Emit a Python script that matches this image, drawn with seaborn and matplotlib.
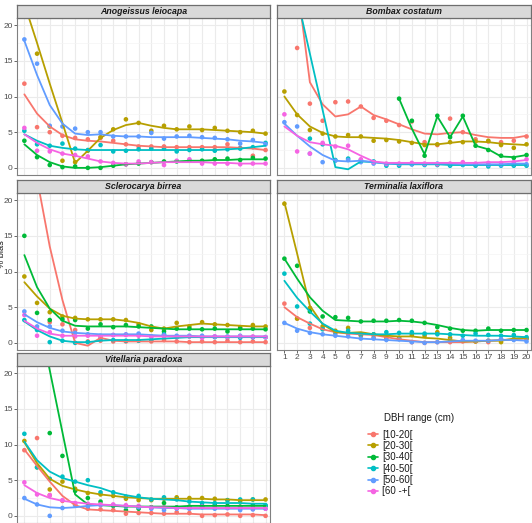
import numpy as np
import pandas as pd
import matplotlib
matplotlib.use("Agg")
import matplotlib.pyplot as plt
from matplotlib.lines import Line2D
import seaborn as sns

# -------- datos --------
x_vals = list(range(1, 21))
dbh_clases = ["[10-20[", "[20-30[", "[30-40[", "[40-50[", "[50-60[", "[60 -+["]
colores = ["#F8766D", "#B79F00", "#00BA38", "#00BFC4", "#619CFF", "#F564E3"]
especies = ["Anogeissus leiocapa", "Bombax costatum", "Sclerocarya birrea",
            "Terminalia laxiflora", "Vitellaria paradoxa"]
N = None

# Anogeissus leiocapa
ano_obs = {
    "[10-20[": [11.8, 5.7, 5.0, 4.5, 4.2, 4.0, 4.2, 3.8, 3.3, 3.0, 3.0, 3.0, 2.9, 2.9, 2.9, 2.9, 3.3, 2.8, 1.7, 2.5],
    "[20-30[": [26.0, 16.0, 5.8, 1.0, 0.8, 2.4, 4.3, 5.4, 6.8, 6.3, 5.2, 5.9, 5.4, 5.8, 5.3, 5.6, 5.2, 5.0, 5.2, 4.8],
    "[30-40[": [3.8, 1.5, 0.4, 0.1, 0.2, 0.0, 0.0, 0.3, 0.5, 0.6, 0.8, 0.9, 0.9, 1.0, 1.0, 1.2, 1.3, 1.1, 1.4, 1.3],
    "[40-50[": [5.2, 3.3, 3.1, 3.4, 2.7, 2.5, 3.2, 2.3, 2.4, 2.6, 2.7, 2.7, 2.3, 2.5, 2.6, 2.4, 2.6, 2.7, 2.9, 3.5],
    "[50-60[": [18.0, 14.6, 5.9, 5.8, 5.5, 5.0, 5.0, 4.4, 4.4, 4.4, 4.9, 4.1, 4.4, 4.5, 4.3, 4.2, 4.0, 3.4, 3.9, 3.3],
    "[60 -+[": [5.6, 2.4, 2.3, 2.0, 1.8, 1.6, 0.9, 0.7, 0.5, 0.9, 0.8, 0.4, 1.0, 1.2, 0.6, 0.6, 0.6, 0.5, 0.6, 0.6],
}
ano_fit = {
    "[10-20[": [10.3, 7.6, 5.8, 4.6, 4.0, 3.8, 3.7, 3.5, 3.3, 3.1, 3.0, 2.9, 2.9, 2.9, 2.9, 2.9, 2.9, 2.8, 2.7, 2.5],
    "[20-30[": [23.0, 17.5, 11.8, 6.3, 0.7, 2.4, 4.2, 5.3, 6.0, 6.3, 5.9, 5.6, 5.4, 5.4, 5.4, 5.3, 5.2, 5.1, 5.0, 4.8],
    "[30-40[": [3.3, 1.8, 0.8, 0.2, 0.0, 0.0, 0.1, 0.3, 0.5, 0.6, 0.7, 0.8, 0.9, 1.0, 1.0, 1.1, 1.1, 1.2, 1.2, 1.2],
    "[40-50[": [4.7, 3.8, 3.1, 2.8, 2.6, 2.5, 2.5, 2.5, 2.5, 2.5, 2.5, 2.5, 2.5, 2.5, 2.5, 2.5, 2.6, 2.7, 2.9, 3.1],
    "[50-60[": [17.8, 13.0, 8.8, 6.2, 4.8, 4.6, 4.7, 4.5, 4.4, 4.4, 4.3, 4.3, 4.3, 4.3, 4.2, 4.1, 4.0, 3.8, 3.7, 3.5],
    "[60 -+[": [4.7, 3.5, 2.6, 2.0, 1.7, 1.3, 0.9, 0.7, 0.6, 0.6, 0.7, 0.8, 0.8, 0.8, 0.8, 0.7, 0.7, 0.6, 0.6, 0.6],
}

# Bombax costatum
bom_obs = {
    "[10-20[": [33.0, 16.8, 9.0, 6.6, 9.2, 9.3, 8.6, 7.0, 6.6, 6.0, 6.5, 3.6, 3.2, 6.9, 5.0, 4.0, 3.7, 3.6, 3.8, 4.4],
    "[20-30[": [10.7, 7.4, 5.3, 4.8, 4.4, 4.6, 4.4, 3.8, 3.9, 3.7, 3.5, 3.2, 3.3, 3.6, 3.6, 3.7, 3.8, 3.2, 2.8, 3.3],
    "[30-40[": [N, N, N, N, N, N, N, N, N, 9.7, 6.6, 1.7, 7.3, 4.3, 7.3, 3.1, 2.5, 1.7, 1.4, 1.8],
    "[40-50[": [32.0, 24.0, 4.1, 3.3, 1.1, 1.3, 1.1, 0.9, 0.3, 0.3, 0.5, 0.4, 0.4, 0.3, 0.4, 0.3, 0.2, 0.3, 0.3, 0.3],
    "[50-60[": [6.4, 5.8, 2.0, 0.8, 1.0, 1.1, 0.8, 0.6, 0.5, 0.5, 0.5, 0.5, 0.6, 0.5, 0.5, 0.5, 0.4, 0.4, 0.5, 0.5],
    "[60 -+[": [7.5, 2.3, 2.0, 3.5, 3.0, 3.1, 1.2, 0.8, 0.6, 0.6, 0.7, 0.6, 0.5, 0.6, 0.8, 0.6, 0.7, 0.7, 0.8, 1.2],
}
bom_fit = {
    "[10-20[": [35.0, 26.0, 12.0, 8.9, 7.2, 7.5, 8.6, 7.4, 6.8, 6.1, 5.4, 4.8, 4.7, 4.9, 5.0, 4.6, 4.3, 4.2, 4.2, 4.5],
    "[20-30[": [10.0, 7.5, 5.8, 4.9, 4.4, 4.3, 4.3, 4.2, 4.1, 3.9, 3.6, 3.3, 3.3, 3.5, 3.7, 3.7, 3.6, 3.4, 3.3, 3.2],
    "[30-40[": [N, N, N, N, N, N, N, N, N, 9.7, 5.5, 1.9, 7.2, 4.3, 7.2, 3.1, 2.6, 1.6, 1.5, 1.8],
    "[40-50[": [31.8, 23.9, 16.0, 8.1, 0.1, -0.2, 0.9, 0.8, 0.6, 0.5, 0.5, 0.5, 0.5, 0.4, 0.4, 0.4, 0.4, 0.4, 0.4, 0.4],
    "[50-60[": [6.2, 4.5, 3.0, 1.8, 1.0, 0.9, 1.0, 0.8, 0.6, 0.6, 0.6, 0.6, 0.6, 0.6, 0.5, 0.5, 0.5, 0.5, 0.6, 0.6],
    "[60 -+[": [5.8, 4.5, 3.6, 3.3, 3.1, 2.6, 1.7, 0.9, 0.7, 0.7, 0.7, 0.7, 0.7, 0.7, 0.7, 0.7, 0.8, 0.8, 0.9, 1.1],
}

# Sclerocarya birrea
scl_obs = {
    "[10-20[": [35.0, 24.0, 2.9, 2.6, 1.8, 0.2, 0.3, 0.2, 0.2, 0.3, 0.2, 0.4, 0.2, 0.1, 0.2, 0.1, 0.3, 0.1, 0.2, 0.1],
    "[20-30[": [9.3, 5.6, 4.3, 3.7, 3.5, 3.3, 3.3, 3.3, 3.2, 2.6, 1.8, 2.0, 2.8, 2.3, 2.9, 2.6, 2.5, 2.2, 2.5, 2.3],
    "[30-40[": [15.0, 4.2, 3.2, 3.3, 3.2, 2.0, 2.6, 2.2, 2.5, 2.3, 2.3, 1.6, 2.0, 2.0, 1.9, 2.0, 1.6, 2.0, 2.0, 1.9],
    "[40-50[": [3.2, 1.8, 0.1, 0.3, 0.0, 0.1, 0.6, 0.4, 0.3, 0.3, 0.4, 1.2, 0.8, 0.9, 0.8, 0.8, 0.8, 0.7, 0.8, 0.8],
    "[50-60[": [4.4, 2.3, 2.3, 1.7, 1.4, 1.2, 1.0, 1.1, 1.2, 1.3, 0.9, 1.1, 1.0, 1.0, 1.0, 0.9, 0.9, 1.0, 0.8, 0.8],
    "[60 -+[": [3.9, 1.0, 1.5, 1.0, 0.9, 1.0, 0.8, 1.1, 1.1, 1.0, 0.9, 0.9, 0.8, 0.9, 0.7, 0.9, 0.8, 0.9, 0.9, 0.8],
}
scl_fit = {
    "[10-20[": [30.6, 23.0, 13.5, 6.0, 0.0, -0.4, 0.7, 0.3, 0.2, 0.2, 0.2, 0.2, 0.2, 0.1, 0.1, 0.1, 0.1, 0.1, 0.1, 0.1],
    "[20-30[": [8.5, 6.5, 4.8, 3.8, 3.4, 3.3, 3.3, 3.3, 3.1, 2.8, 2.3, 2.0, 2.3, 2.5, 2.7, 2.6, 2.5, 2.4, 2.3, 2.3],
    "[30-40[": [12.3, 7.8, 4.8, 3.1, 2.4, 2.3, 2.3, 2.3, 2.3, 2.2, 2.1, 2.0, 1.9, 1.9, 1.9, 1.9, 1.9, 1.9, 1.9, 1.9],
    "[40-50[": [3.0, 1.8, 0.9, 0.3, 0.1, 0.1, 0.3, 0.4, 0.4, 0.4, 0.5, 0.6, 0.7, 0.8, 0.8, 0.8, 0.8, 0.8, 0.8, 0.8],
    "[50-60[": [4.0, 2.9, 2.1, 1.6, 1.4, 1.3, 1.2, 1.2, 1.2, 1.2, 1.1, 1.0, 1.0, 1.0, 0.9, 0.9, 0.9, 0.9, 0.9, 0.9],
    "[60 -+[": [3.1, 2.0, 1.3, 1.0, 1.0, 1.0, 1.0, 1.0, 1.0, 1.0, 0.9, 0.9, 0.9, 0.9, 0.9, 0.9, 0.9, 0.9, 0.9, 0.9],
}

# Terminalia laxiflora (sin clase [60 -+[)
ter_obs = {
    "[10-20[": [5.5, 3.4, 2.1, 2.0, 1.3, 1.3, 1.0, 0.8, 0.7, 0.6, 0.1, 0.0, 0.1, 0.1, 0.2, 0.2, 0.1, 0.5, 0.5, 0.6],
    "[20-30[": [19.5, 3.4, 4.9, 2.3, 1.7, 2.1, 1.1, 1.2, 0.8, 0.7, 1.1, 1.0, 1.5, 0.7, 0.3, 0.2, 0.3, 0.1, 0.5, 0.6],
    "[30-40[": [11.8, 10.8, 4.4, 3.7, 3.6, 3.5, 3.0, 3.1, 3.1, 3.2, 3.1, 2.8, 2.2, 2.0, 1.7, 1.7, 2.0, 1.7, 1.8, 1.8],
    "[40-50[": [9.7, 5.1, 2.7, 1.9, 1.5, 1.7, 1.2, 1.2, 1.5, 1.4, 1.5, 1.3, 1.2, 1.2, 1.0, 1.3, 1.1, 1.0, 1.1, 0.8],
    "[50-60[": [2.8, 1.7, 1.4, 1.2, 1.0, 0.9, 0.6, 0.6, 0.4, 0.5, 0.1, 0.0, 0.1, 0.3, 0.4, 0.3, 0.3, 0.5, 0.4, 0.2],
}
ter_fit = {
    "[10-20[": [5.0, 3.6, 2.7, 1.9, 1.5, 1.3, 1.2, 1.1, 0.8, 0.5, 0.3, 0.1, 0.1, 0.1, 0.1, 0.2, 0.3, 0.4, 0.5, 0.6],
    "[20-30[": [19.7, 12.5, 5.2, 2.6, 1.5, 1.4, 1.5, 1.2, 1.0, 0.9, 0.9, 0.7, 0.6, 0.4, 0.2, 0.2, 0.3, 0.3, 0.6, 0.7],
    "[30-40[": [11.8, 9.0, 6.4, 4.5, 3.2, 3.1, 3.0, 3.0, 3.0, 3.1, 3.0, 2.8, 2.5, 2.1, 1.8, 1.7, 1.8, 1.8, 1.8, 1.8],
    "[40-50[": [8.7, 6.3, 4.4, 2.7, 1.7, 1.4, 1.3, 1.2, 1.2, 1.3, 1.3, 1.3, 1.3, 1.2, 1.1, 1.0, 1.0, 1.0, 0.9, 0.8],
    "[50-60[": [2.8, 2.0, 1.5, 1.2, 1.0, 0.8, 0.6, 0.5, 0.4, 0.3, 0.2, 0.1, 0.1, 0.2, 0.3, 0.3, 0.3, 0.4, 0.4, 0.3],
}

# Vitellaria paradoxa
vit_obs = {
    "[10-20[": [9.2, 10.9, 2.9, 2.1, 1.6, 1.0, 0.9, 0.8, 0.3, 0.4, 0.4, 0.3, 0.5, 0.4, 0.0, 0.1, 0.2, 0.0, 0.1, 0.0],
    "[20-30[": [10.5, 6.8, 3.7, 4.8, 3.8, 3.2, 3.0, 2.8, 2.4, 2.2, 2.2, 2.4, 2.6, 2.5, 2.5, 2.4, 2.2, 2.1, 2.3, 2.3],
    "[30-40[": [40.0, 28.0, 11.6, 8.4, 3.5, 2.5, 2.0, 1.4, 0.8, 1.0, 1.2, 1.8, 1.2, 1.3, 1.4, 1.5, 1.4, 1.3, 1.5, 1.4],
    "[40-50[": [11.5, 6.8, 5.2, 5.5, 4.8, 5.0, 3.3, 3.3, 2.7, 2.8, 2.3, 2.6, 2.3, 2.0, 1.8, 1.8, 2.2, 2.3, 2.3, 1.5],
    "[50-60[": [2.5, 1.6, 0.0, 1.1, 1.5, 1.3, 1.5, 1.5, 1.3, 1.2, 1.0, 0.8, 1.0, 1.0, 1.2, 1.0, 1.1, 0.8, 0.9, 1.0],
    "[60 -+[": [4.7, 3.0, 2.9, 2.2, 1.8, 1.7, 1.6, 1.6, 1.5, 1.4, 1.2, 1.2, 1.1, 1.1, 1.3, 1.2, 1.1, 1.2, 1.1, 1.0],
}
vit_fit = {
    "[10-20[": [9.3, 7.0, 4.8, 2.8, 1.5, 0.9, 0.8, 0.7, 0.6, 0.5, 0.4, 0.3, 0.3, 0.3, 0.2, 0.2, 0.2, 0.2, 0.2, 0.1],
    "[20-30[": [10.3, 7.4, 5.2, 4.2, 3.7, 3.3, 3.0, 2.8, 2.6, 2.5, 2.4, 2.4, 2.4, 2.4, 2.4, 2.3, 2.3, 2.2, 2.2, 2.2],
    "[30-40[": [38.0, 29.0, 20.4, 11.7, 3.0, 1.6, 1.5, 1.4, 1.3, 1.3, 1.3, 1.3, 1.3, 1.4, 1.4, 1.4, 1.4, 1.4, 1.4, 1.4],
    "[40-50[": [10.4, 7.8, 6.2, 5.3, 4.8, 4.3, 3.9, 3.3, 2.9, 2.6, 2.4, 2.3, 2.2, 2.0, 1.9, 1.8, 1.8, 1.8, 1.7, 1.7],
    "[50-60[": [2.4, 1.6, 1.2, 1.1, 1.2, 1.4, 1.5, 1.5, 1.4, 1.3, 1.2, 1.1, 1.1, 1.0, 1.0, 1.0, 1.0, 1.0, 1.0, 1.0],
    "[60 -+[": [4.3, 3.2, 2.5, 2.1, 1.9, 1.7, 1.6, 1.5, 1.4, 1.3, 1.2, 1.2, 1.1, 1.1, 1.1, 1.1, 1.1, 1.1, 1.1, 1.1],
}

datos = {
    "Anogeissus leiocapa": (ano_obs, ano_fit),
    "Bombax costatum": (bom_obs, bom_fit),
    "Sclerocarya birrea": (scl_obs, scl_fit),
    "Terminalia laxiflora": (ter_obs, ter_fit),
    "Vitellaria paradoxa": (vit_obs, vit_fit),
}

# tabla larga
filas = []
for sp, (obs, fit) in datos.items():
    for clase in obs:
        for xi, o, f in zip(x_vals, obs[clase], fit[clase]):
            filas.append({"especie": sp, "dbh": clase, "x": xi,
                          "obs": np.nan if o is None else o,
                          "fit": np.nan if f is None else f})
df = pd.DataFrame(filas)
paleta = dict(zip(dbh_clases, colores))

# -------- figura --------
sns.set_style("white")
plt.rcParams["font.family"] = ["Liberation Sans", "DejaVu Sans"]

W, H = 532, 523
fig = plt.figure(figsize=(W / 100, H / 100), dpi=100)

# posiciones de paneles en pixeles
col_x = [(17, 253), (277, 254)]
fila_top = [18, 193, 366]
alto = 157
strip_h = 13.5
borde = "#808080"


def px_rect(x0, top, w, h):
    return [x0 / W, 1 - (top + h) / H, w / W, h / H]


for i, sp in enumerate(especies):
    fila, col = divmod(i, 2)
    x0, w = col_x[col]
    top = fila_top[fila]
    ax = fig.add_axes(px_rect(x0, top, w, alto))
    sub = df[df["especie"] == sp]
    orden = [c for c in dbh_clases if c in sub["dbh"].unique()]

    sns.scatterplot(data=sub, x="x", y="obs", hue="dbh", hue_order=orden,
                    palette=paleta, s=11, edgecolor="none", legend=False,
                    ax=ax, zorder=3)
    sns.lineplot(data=sub, x="x", y="fit", hue="dbh", hue_order=orden,
                 palette=paleta, lw=1.3, errorbar=None, legend=False,
                 ax=ax, zorder=4)

    ax.set_xlim(0.42, 20.35)
    ax.set_ylim(-1, 21)
    ax.set_xticks(x_vals)
    ax.set_yticks([0, 5, 10, 15, 20])
    ax.set_yticks(np.arange(0, 21, 2.5), minor=True)
    ax.grid(True, which="major", color="#EBEBEB", lw=0.8)
    ax.grid(True, which="minor", axis="y", color="#F4F4F4", lw=0.5)
    ax.set_axisbelow(True)
    ax.set_xlabel("")
    ax.set_ylabel("")
    for s in ax.spines.values():
        s.set_color(borde)
        s.set_linewidth(0.8)
    ax.tick_params(axis="both", which="major", length=2.0, width=0.6,
                   color="#4D4D4D", labelsize=6, labelcolor="#4D4D4D", pad=1.0)
    ax.tick_params(axis="y", which="minor", length=0)
    if col == 1:
        ax.tick_params(axis="y", labelleft=False, left=False)
    else:
        ax.tick_params(axis="y", left=True)
    # solo Terminalia muestra el eje x dentro del recorte
    if sp == "Terminalia laxiflora":
        ax.tick_params(axis="x", bottom=True)
    else:
        ax.tick_params(axis="x", labelbottom=False, bottom=False)

    # franja del titulo
    sax = fig.add_axes(px_rect(x0, top - strip_h, w, strip_h))
    sax.set_facecolor("#D9D9D9")
    sax.set_xticks([])
    sax.set_yticks([])
    for s in sax.spines.values():
        s.set_color("#6E6E6E")
        s.set_linewidth(0.9)
    sax.text(0.5, 0.47, sp, ha="center", va="center", fontsize=6.3,
             fontweight="bold", fontstyle="italic", color="#1A1A1A",
             transform=sax.transAxes)

# etiqueta eje y (pegada al borde izquierdo como en el original)
fig.text(2 / W, 1 - 254 / H, "% bias", rotation=90, ha="center",
         va="center", fontsize=6.6, color="#1A1A1A")

# leyenda
handles = [Line2D([0], [0], color=c, marker="o", markersize=3, lw=1.2)
           for c in colores]
fig.text(384 / W, 1 - 418 / H, "DBH range (cm)", ha="left", va="center",
         fontsize=7, color="#1A1A1A")
leg = fig.legend(handles, dbh_clases, loc="upper left",
                 bbox_to_anchor=(368 / W, 1 - 429.5 / H),
                 frameon=False, fontsize=7, handlelength=1.0,
                 handletextpad=0.45, labelspacing=0.14, borderpad=0,
                 borderaxespad=0)
for t in leg.get_texts():
    t.set_color("#1A1A1A")

fig.savefig("out.png", dpi=100)
